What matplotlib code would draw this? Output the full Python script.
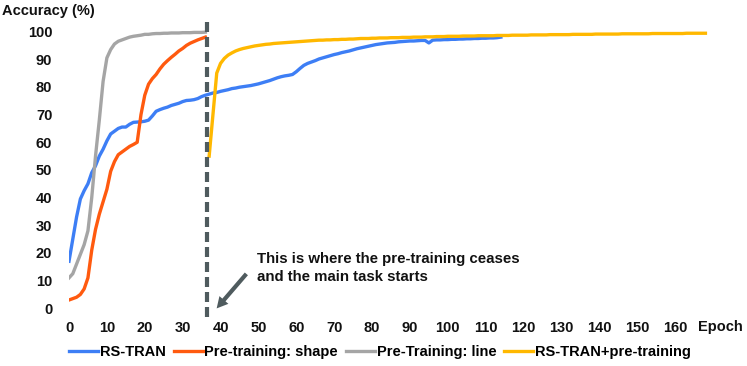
import numpy as np
import matplotlib
matplotlib.use("Agg")
import matplotlib.pyplot as plt
from matplotlib.lines import Line2D

plt.rcParams['font.family'] = ['Liberation Sans', 'DejaVu Sans']
plt.rcParams['font.weight'] = 'bold'

# RS-TRAN, epochs 0..114
rs_tran = [17, 25, 33, 39.5, 42.5, 45, 49, 51.5, 55, 57.5,
           60.5, 63, 64, 65, 65.5, 65.5, 66.5, 67.2, 67.3, 67.4,
           67.6, 68, 69.5, 71.2, 71.8, 72.3, 72.7, 73.3, 73.7, 74.1,
           74.7, 75.1, 75.2, 75.4, 75.8, 76.5, 77, 77.4, 77.8, 78.0,
           78.4, 78.7, 79.0, 79.4, 79.6, 79.9, 80.1, 80.3, 80.5, 80.8,
           81.1, 81.5, 81.9, 82.3, 82.8, 83.3, 83.7, 84.0, 84.2, 84.5,
           85.5, 86.7, 87.8, 88.5, 89.0, 89.5, 90.1, 90.5, 90.9, 91.3,
           91.7, 92.0, 92.4, 92.7, 93.0, 93.4, 93.8, 94.1, 94.4, 94.7,
           95.0, 95.3, 95.5, 95.7, 95.9, 96.0, 96.1, 96.3, 96.4, 96.5,
           96.6, 96.6, 96.7, 96.8, 96.8, 95.9, 96.9, 97.0, 97.0, 97.1,
           97.1, 97.2, 97.2, 97.3, 97.3, 97.4, 97.4, 97.5, 97.5, 97.6,
           97.6, 97.7, 97.7, 97.8, 98.0]

# Pre-training: shape, epochs 0..36
pre_shape = [3, 3.5, 4, 5, 7, 11, 21, 28.5, 34, 38.5,
             43, 49.5, 53, 55.5, 56.5, 57.5, 58.5, 59.2, 60, 70,
             77, 81, 83, 84.5, 86.5, 88.2, 89.5, 90.7, 91.8, 93,
             93.9, 95, 95.8, 96.4, 97, 97.5, 98]

# Pre-Training: line, epochs 0..36
pre_line = [11, 12.5, 16, 19.5, 23, 28, 40, 55, 68, 82,
            90.5, 93.5, 95.5, 96.5, 97, 97.5, 98, 98.3, 98.5, 98.7,
            99, 99, 99.2, 99.3, 99.3, 99.4, 99.4, 99.5, 99.5, 99.5,
            99.6, 99.6, 99.6, 99.7, 99.7, 99.7, 99.8]

# RS-TRAN+pre-training, epochs 37..168
rs_pre = [55.0, 70.0, 85.0, 88.5, 90.3, 91.5, 92.3, 93.0, 93.5, 93.9,
          94.2, 94.5, 94.8, 95.0, 95.2, 95.4, 95.5, 95.7, 95.8, 95.9,
          96.0, 96.1, 96.2, 96.3, 96.4, 96.5, 96.6, 96.7, 96.8, 96.9,
          96.9, 97.0, 97.0, 97.1, 97.1, 97.2, 97.2, 97.3, 97.3, 97.4,
          97.5, 97.5, 97.5, 97.6, 97.6, 97.7, 97.7, 97.7, 97.8, 97.8,
          97.8, 97.9, 97.9, 97.9, 98.0, 98.0, 98.0, 98.1, 98.1, 98.1,
          98.2, 98.2, 98.2, 98.3, 98.3, 98.3, 98.3, 98.4, 98.4, 98.4,
          98.4, 98.5, 98.5, 98.5, 98.5, 98.5, 98.6, 98.6, 98.6, 98.6,
          98.7, 98.7, 98.7, 98.7, 98.7, 98.8, 98.8, 98.8, 98.8, 98.8,
          98.9, 98.9, 98.9, 98.9, 98.9, 98.9, 99.0, 99.0, 99.0, 99.0,
          99.0, 99.0, 99.1, 99.1, 99.1, 99.1, 99.1, 99.1, 99.1, 99.2,
          99.2, 99.2, 99.2, 99.2, 99.2, 99.2, 99.2, 99.3, 99.3, 99.3,
          99.3, 99.3, 99.3, 99.3, 99.3, 99.3, 99.4, 99.4, 99.4, 99.4,
          99.4, 99.4]
rs_pre_start = 37
pretrain_end = 36.3

xticks = list(range(0, 161, 10))
yticks = list(range(0, 101, 10))

c_blue = '#3d7ef5'
c_orange = '#ff5a0f'
c_gray = '#a5a5a5'
c_yellow = '#ffb800'
c_dark = '#4f5b5e'
fs = 10.5

W, H = 747, 366
fig = plt.figure(figsize=(W / 100, H / 100), dpi=100)
ax = fig.add_axes([69 / W, 49.4 / H, 644 / W, 294.7 / H])

lw = 2.4
ax.plot(np.arange(len(rs_tran)), rs_tran, color=c_blue, lw=lw)
ax.plot(np.arange(len(pre_shape)), pre_shape, color=c_orange, lw=lw)
ax.plot(np.arange(len(pre_line)), pre_line, color=c_gray, lw=lw)
ax.plot(np.arange(rs_pre_start, rs_pre_start + len(rs_pre)), rs_pre, color=c_yellow, lw=lw)

ax.axvline(pretrain_end, color=c_dark, lw=3, linestyle=(0, (2.4, 1.2)))

ax.set_xlim(0, 170)
ax.set_ylim(-3, 103.5)
ax.set_xticks(xticks)
ax.set_yticks(yticks)
ax.tick_params(axis='both', length=0, labelsize=fs, colors='#111111')
ax.tick_params(axis='x', pad=3)
ax.tick_params(axis='y', pad=12)
for s in ax.spines.values():
    s.set_visible(False)

# arrow and note
ax.annotate('', xy=(38.5, -0.8), xytext=(47.3, 13.2),
            arrowprops=dict(arrowstyle='simple,head_width=0.85,head_length=0.8,tail_width=0.3',
                            color=c_dark, lw=0))
fig.text(257 / W, 1 - 268 / H, 'This is where the pre-training ceases\nand the main task starts',
         fontsize=10.8, va='center', ha='left', linespacing=1.35, color='#111111')

fig.text(2 / W, 1 - 11 / H, 'Accuracy (%)', fontsize=fs, va='center', ha='left', color='#111111')
fig.text(698 / W, 1 - 327 / H, 'Epoch', fontsize=fs, va='center', ha='left', color='#111111')

handles = [Line2D([], [], color=c, lw=lw) for c in [c_blue, c_orange, c_gray, c_yellow]]
labels = ['RS-TRAN', 'Pre-training: shape', 'Pre-Training: line', 'RS-TRAN+pre-training']
fig.legend(handles, labels, loc='center', bbox_to_anchor=(380 / W, 1 - 352 / H), ncol=4,
           frameon=False, fontsize=fs, handlelength=2.0, handletextpad=0.1,
           columnspacing=0.55, borderaxespad=0)

fig.savefig('out.png', dpi=100)
